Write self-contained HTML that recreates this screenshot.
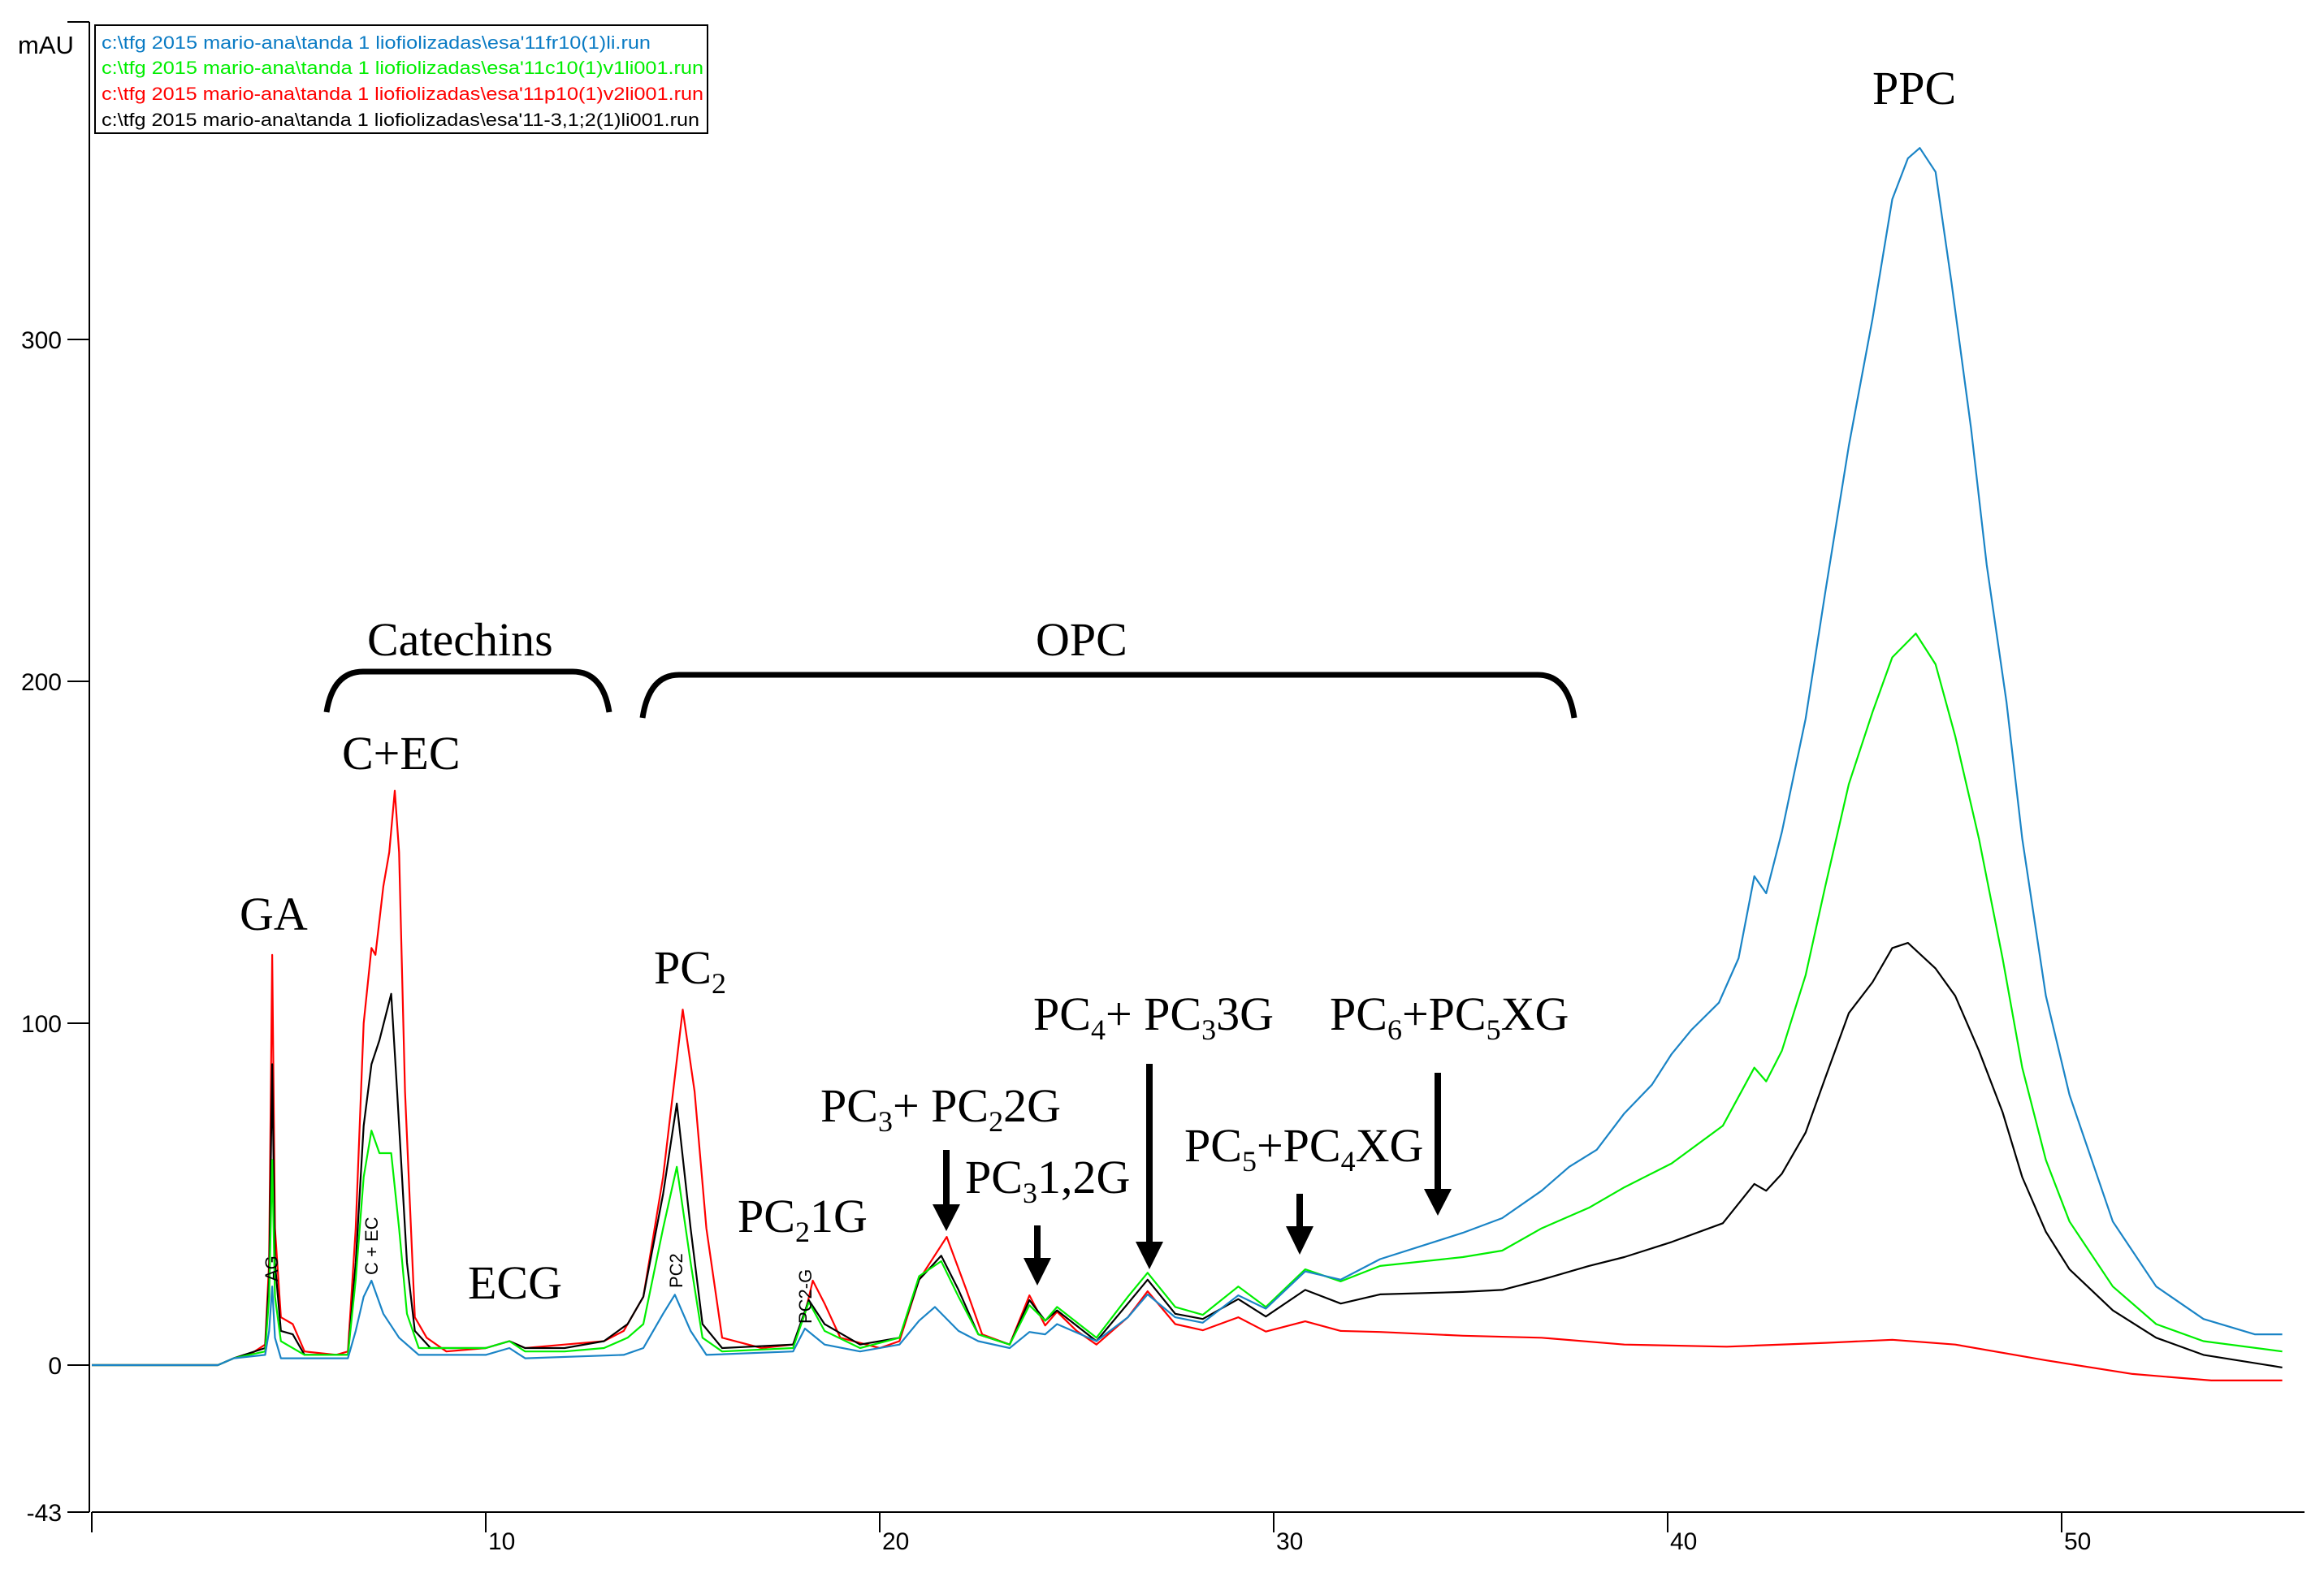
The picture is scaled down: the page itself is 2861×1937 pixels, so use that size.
<!DOCTYPE html>
<html><head><meta charset="utf-8"><style>
html,body{margin:0;padding:0;background:#fff;}
svg{display:block;}
text{font-family:"Liberation Sans",sans-serif;}
.ann{font-family:"Liberation Serif",serif;font-size:58px;fill:#000;}
</style></head><body>
<svg id="chart" width="2861" height="1937" viewBox="0 0 2861 1937" xmlns="http://www.w3.org/2000/svg">
<g id="axes"></g>
<g id="series"></g>
<g id="annotations"></g>
<g>
<rect x="117" y="31" width="754" height="133" fill="#fff" stroke="#000" stroke-width="2"/>
<text x="125" y="60" font-size="22" fill="#0a7bc4" textLength="676" lengthAdjust="spacingAndGlyphs">c:\tfg 2015 mario-ana\tanda 1 liofiolizadas\esa'11fr10(1)li.run</text>
<text x="125" y="91" font-size="22" fill="#00ee00" textLength="741" lengthAdjust="spacingAndGlyphs">c:\tfg 2015 mario-ana\tanda 1 liofiolizadas\esa'11c10(1)v1li001.run</text>
<text x="125" y="123" font-size="22" fill="#ff0000" textLength="741" lengthAdjust="spacingAndGlyphs">c:\tfg 2015 mario-ana\tanda 1 liofiolizadas\esa'11p10(1)v2li001.run</text>
<text x="125" y="155" font-size="22" fill="#000" textLength="736" lengthAdjust="spacingAndGlyphs">c:\tfg 2015 mario-ana\tanda 1 liofiolizadas\esa'11-3,1;2(1)li001.run</text>
</g>
</svg>
<script>
const xTicks = [10, 20, 30, 40, 50];
const yTicks = [300, 200, 100, 0, -43];
const blueT = [0,3.2,3.6,4.4,4.5,4.58,4.65,4.8,6.5,6.7,6.9,7.1,7.4,7.8,8.3,10,10.6,11,13.5,14,14.5,14.8,15.2,15.6,17.8,18.1,18.6,19.5,20.5,21,21.4,22,22.5,23.3,23.8,24.2,24.5,25.5,26.3,26.8,27.5,28.2,29.1,29.8,30.8,31.7,32.7,34.8,35.8,36.8,37.5,38.2,38.9,39.6,40.1,40.6,41.3,41.8,42.2,42.5,42.9,43.5,44.0,44.6,45.2,45.7,46.1,46.4,46.8,47.2,47.7,48.1,48.6,49.0,49.6,50.2,51.3,52.4,53.6,54.9,55.6];
const blueV = [0,0,2,3,10,23,8,2,2,10,20,24.7,15,8,3,3,5,2,3,5,15,20.6,10,3,4,10.7,6,4,6,13,17,10,7,5,9.7,9,12,7,14,20.7,14,12.4,20.4,16.5,27.4,25,31,38.7,43,51,58,63,73.6,82,91,98,106,119,143,138,156,189,226,269,306,341,353,356,349,317,274,234,194,154,108,79,42,23,13.5,9,9];
const greenT = [0,3.2,3.6,4.4,4.5,4.58,4.65,4.8,5.4,6.5,6.7,6.9,7.1,7.3,7.6,7.8,8.0,8.3,10,10.6,11,12,13,13.6,14,14.5,14.85,15.2,15.5,16,17.8,18.2,18.6,19.5,20.5,21,21.56,22,22.5,23.3,23.8,24.2,24.5,25.5,26.3,26.8,27.5,28.2,29.1,29.8,30.8,31.7,32.7,34.8,35.8,36.8,38,38.9,40.1,41.4,42.2,42.5,42.9,43.5,44.0,44.6,45.2,45.7,46.3,46.8,47.3,47.9,48.5,49.0,49.6,50.2,51.3,52.4,53.6,55.6];
const greenV = [0,0,2,4,20,60,20,7,3,3,25,55,68.6,62,62,40,15,5,5,7,4,4,5,8,12,40,58,30,8,4,5,18.5,10,5,8,26,30.4,20,9,6,17.5,13,17,8,20,27,17,14.7,23,17,28,24.5,29,31.6,33.5,40,46,52,59,70,87,83,92,114,140,170,191,207,214,205,184,154,119,87,60,42,23,12,7,4];
const redT = [0,3.2,3.6,4.0,4.4,4.5,4.58,4.65,4.8,5.1,5.4,6.2,6.5,6.7,6.9,7.1,7.2,7.4,7.55,7.69,7.8,7.95,8.2,8.5,9,10,10.6,11,12,13,13.5,14,14.5,15.0,15.3,15.6,16,17,17.8,18.1,18.3,18.6,19,20,20.5,21,21.7,22.2,22.6,23.3,23.8,24.2,24.5,25,25.5,26.3,26.8,27.5,28.2,29.1,29.8,30.8,31.7,32.7,34.8,36.8,38.9,41.5,44,45.7,47.3,49.6,51.8,53.8,55.6];
const redV = [0,0,2,3,6,30,120,40,14,12,4,3,4,40,100,122,120,140,150,168,150,80,14,8,4,5,7,5,6,7,10,20,55,104,80,40,8,5,6,15,24.7,18,8,5,7,25,37.5,22,9,6,20.4,11.6,15.6,10,6,14,21.6,12,10.2,14,9.8,12.8,10,9.7,8.6,8,6,5.4,6.5,7.4,6,1.4,-2.6,-4.5,-4.5];
const blackT = [0,3.2,3.6,4.4,4.5,4.58,4.65,4.8,5.1,5.4,6.5,6.7,6.9,7.1,7.3,7.6,7.75,8.0,8.2,8.6,10,10.6,11,12,13,13.6,14,14.5,14.85,15.2,15.5,16,17.8,18.2,18.6,19.5,20.5,21,21.56,22,22.5,23.3,23.8,24.2,24.5,25.5,26.3,26.8,27.5,28.2,29.1,29.8,30.8,31.7,32.7,34.8,35.8,36.8,38,38.9,40.1,41.4,42.2,42.5,42.9,43.5,44.0,44.6,45.2,45.7,46.1,46.8,47.3,47.9,48.5,49.0,49.6,50.2,51.3,52.4,53.6,55.6];
const blackV = [0,0,2,5,25,88,30,10,9,3,3,30,70,88,95,108.6,80,30,10,5,5,7,5,5,7,12,20,50,76.5,40,12,5,6,19,12,6,8,25,32,22,9,6,19,13,16,7,18,25,15,13.5,19.3,14.2,22,18,20.7,21.4,22,25,29,31.6,36,41.5,53,51,56,68,84,103,112,122,123.5,116,108,92,74,55,39,28,16,8,3,-0.7];

const NS = 'http://www.w3.org/2000/svg';
const X0 = 113, PXMIN = 48.5, Y0 = 1681, PXV = 4.21;
function xs(t){ return X0 + t * PXMIN; }
function ys(v){ return Y0 - v * PXV; }
function mk(tag, attrs, parent){
  const e = document.createElementNS(NS, tag);
  for (const k in attrs) e.setAttribute(k, attrs[k]);
  parent.appendChild(e);
  return e;
}
const axes = document.getElementById('axes');
let a = mk('line', {x1:110, y1:27, x2:110, y2:1862, stroke:'#000', 'stroke-width':2}, axes);


a = mk('line', {x1:83, y1:27, x2:110, y2:27, stroke:'#000', 'stroke-width':2}, axes);


a = mk('line', {x1:113, y1:1862, x2:2837, y2:1862, stroke:'#000', 'stroke-width':2}, axes);


a = mk('line', {x1:113, y1:1862, x2:113, y2:1887, stroke:'#000', 'stroke-width':2}, axes);


a = mk('text', {x:22, y:66, 'font-size':31}, axes);
a.textContent = 'mAU';


yTicks.forEach(v => {
  const l = mk('line', {x1:83, y1:ys(v), x2:110, y2:ys(v), stroke:'#000', 'stroke-width':2}, axes);
  
  
  const t = mk('text', {x:76, y:ys(v)+11, 'font-size':30, 'text-anchor':'end'}, axes);
  t.textContent = String(v);
  
  
});
xTicks.forEach(v => {
  const l = mk('line', {x1:xs(v), y1:1862, x2:xs(v), y2:1887, stroke:'#000', 'stroke-width':2}, axes);
  
  
  const t = mk('text', {x:xs(v)+3, y:1908, 'font-size':30}, axes);
  t.textContent = String(v);
  
  
});
const sg = document.getElementById('series');
function drawSeries(T, V, color, name){
  const pts = T.map((t,i) => xs(t).toFixed(1) + ',' + ys(V[i]).toFixed(1)).join(' ');
  const p = mk('polyline', {points:pts, fill:'none', stroke:color, 'stroke-width':2.2, 'stroke-linejoin':'round'}, sg);
  
  
}
drawSeries(redT, redV, '#ff0000', 'series-red');
drawSeries(blackT, blackV, '#000000', 'series-black');
drawSeries(greenT, greenV, '#00ee00', 'series-green');
drawSeries(blueT, blueV, '#1a84c6', 'series-blue');
</script>
<script>
(function(){
const NS='http://www.w3.org/2000/svg';
const g=document.getElementById('annotations');
function lbl(x,y,parts,name){
  const t=document.createElementNS(NS,'text');
  t.setAttribute('class','ann');t.setAttribute('x',x);t.setAttribute('y',y);
  
  
  parts.forEach(p=>{
    const s=document.createElementNS(NS,'tspan');
    if(p[1]){s.setAttribute('font-size','36');s.setAttribute('dy','12');}
    else if(p[2]){s.setAttribute('dy','-12');}
    s.textContent=p[0];t.appendChild(s);
  });
  g.appendChild(t);
}
lbl(295,1145,[['GA']],'label-ga');
lbl(421,947,[['C+EC']],'label-c-ec');
lbl(452,807,[['Catechins']],'label-catechins');
lbl(1275,807,[['OPC']],'label-opc');
lbl(576,1599,[['ECG']],'label-ecg');
lbl(805,1211,[['PC'],['2',1]],'label-pc2');
lbl(908,1517,[['PC'],['2',1],['1G',0,1]],'label-pc2-1g');
lbl(1010,1381,[['PC'],['3',1],['+ PC',0,1],['2',1],['2G',0,1]],'label-pc3-pc2-2g');
lbl(1188,1469,[['PC'],['3',1],['1,2G',0,1]],'label-pc3-12g');
lbl(1272,1268,[['PC'],['4',1],['+ PC',0,1],['3',1],['3G',0,1]],'label-pc4-pc3-3g');
lbl(1458,1430,[['PC'],['5',1],['+PC',0,1],['4',1],['XG',0,1]],'label-pc5-pc4xg');
lbl(1637,1268,[['PC'],['6',1],['+PC',0,1],['5',1],['XG',0,1]],'label-pc6-pc5xg');
lbl(2305,128,[['PPC']],'label-ppc');
function arrow(x,top,base,tip,name){
  const gg=document.createElementNS(NS,'g');
  
  
  gg.innerHTML='<rect x="'+(x-4)+'" y="'+top+'" width="8" height="'+(base-top+2)+'" fill="#000"/><polygon points="'+(x-17)+','+base+' '+(x+17)+','+base+' '+x+','+tip+'" fill="#000"/>';
  g.appendChild(gg);
}
arrow(1165,1416,1483,1516,'arrow-pc3');
arrow(1277,1509,1549,1583,'arrow-pc3-12g');
arrow(1415,1310,1529,1563,'arrow-pc4');
arrow(1600,1470,1510,1545,'arrow-pc5');
arrow(1770,1321,1464,1497,'arrow-pc6');
function brace(x1,x2,top,bot,name){
  const p=document.createElementNS(NS,'path');
  p.setAttribute('d','M'+x1+','+bot+' Q'+(x1+8)+','+top+' '+(x1+45)+','+top+' L'+(x2-45)+','+top+' Q'+(x2-8)+','+top+' '+x2+','+bot);
  p.setAttribute('fill','none');p.setAttribute('stroke','#000');p.setAttribute('stroke-width','7');
  
  
  g.appendChild(p);
}
brace(402,750,827,877,'brace-catechins');
brace(791,1938,831,884,'brace-opc');
function rot(x,y,txt,name){
  const t=document.createElementNS(NS,'text');
  t.setAttribute('x',x);t.setAttribute('y',y);t.setAttribute('font-size','22');
  t.setAttribute('transform','rotate(-90 '+x+' '+y+')');
  t.textContent=txt;
  
  
  g.appendChild(t);
}
rot(342,1578,'AG','peak-label-ag');
rot(465,1570,'C + EC','peak-label-c-ec');
rot(840,1586,'PC2','peak-label-pc2');
rot(999,1630,'PC2-G','peak-label-pc2-g');
})();
</script>
</body></html>
